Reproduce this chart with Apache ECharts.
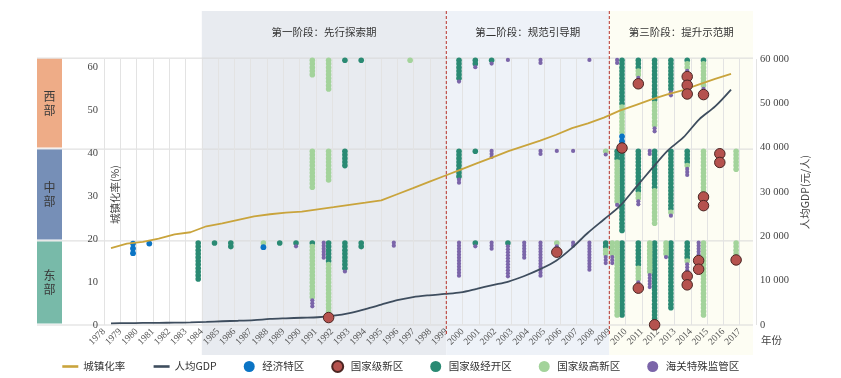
<!DOCTYPE html>
<html><head><meta charset="utf-8">
<script src="https://cdn.jsdelivr.net/npm/echarts@6/dist/echarts.min.js"></script>
<style>html,body{margin:0;padding:0;background:#fff}#c{width:841px;height:378px}</style>
</head><body><div id="c"></div>
<script>
// ---------------- data ----------------
const years = [];
for (let y = 1978; y <= 2017; y++) years.push(y);
const urbanRate = [17.92,18.96,19.39,20.16,21.13,21.62,23.01,23.71,24.52,25.32,25.81,26.21,26.41,26.94,27.46,27.99,28.51,29.04,30.48,31.91,33.35,34.78,36.22,37.66,39.09,40.53,41.76,42.99,44.34,45.89,46.99,48.34,49.95,51.27,52.57,53.73,54.77,56.10,57.35,58.52];
const gdpPerCapita = [380,420,460,490,530,590,690,850,960,1110,1360,1510,1640,1750,2100,2700,3600,4600,5600,6300,6700,7000,7350,8150,9000,9800,11060,12600,14500,17400,20800,23800,26800,31000,35200,39300,42300,46400,49300,53100];
const regionNames = ['西部','中部','东部'];
const typeNames = ['国家级经开区','国家级高新区','海关特殊监管区','经济特区','国家级新区'];
// rows: [year, column, 经开区, 高新区, 海关特殊监管区, 经济特区, 国家级新区]
const westColumns = [
  [1991,0, 0,5,0,0,0],[1992,0, 0,9,0,0,0],[1993,0, 1,0,0,0,0],[1994,0, 1,0,0,0,0],
  [1997,0, 0,1,0,0,0],[2000,0, 6,0,1,0,0],[2001,0, 2,0,1,0,0],[2002,0, 1,0,1,0,0],
  [2003,0, 0,0,1,0,0],[2005,0, 0,0,2,0,0],[2008,0, 0,0,1,0,0],
  [2010,1, 0,0,2,0,0],[2010,0, 13,8,0,2,1],[2011,0, 3,2,1,0,1],[2012,0, 12,7,2,0,0],
  [2013,0, 9,0,2,0,0],[2014,0, 1,2,1,0,3],[2015,0, 1,7,1,0,1]
];
const centralColumns = [
  [1991,0, 0,11,0,0,0],[1992,0, 0,9,0,0,0],[1993,0, 5,0,0,0,0],[2000,0, 8,0,2,0,0],
  [2001,0, 1,0,0,0,0],[2002,0, 0,0,3,0,0],[2005,0, 0,0,2,0,0],[2006,0, 0,0,1,0,0],
  [2007,0, 0,0,1,0,0],[2009,0, 0,1,1,0,0],[2010,1, 3,12,1,0,0],[2010,0, 23,0,0,0,0],
  [2011,0, 12,2,2,0,0],[2012,1, 0,0,2,0,0],[2012,0, 11,10,0,0,0],[2013,0, 17,1,1,0,0],
  [2014,0, 4,1,3,0,0],[2015,0, 0,12,0,0,2],[2016,0, 0,0,0,0,2],[2017,0, 0,6,0,0,0]
];
const eastColumns = [
  [1980,0, 0,0,0,3,0],[1981,0, 0,0,0,1,0],[1984,0, 11,0,0,0,0],[1985,0, 1,0,0,0,0],
  [1986,0, 2,0,0,0,0],[1988,0, 0,1,0,1,0],[1989,0, 1,0,0,0,0],[1990,0, 1,0,1,0,0],
  [1991,0, 1,15,3,0,0],[1992,1, 0,0,6,0,0],[1992,0, 6,14,0,0,1],[1993,0, 8,0,1,0,0],
  [1994,0, 2,0,0,0,0],[1996,0, 0,0,2,0,0],[2000,0, 0,0,12,0,0],[2001,0, 1,0,1,0,0],
  [2002,0, 0,0,3,0,0],[2003,0, 1,0,11,0,0],[2004,0, 0,0,6,0,0],[2005,0, 0,0,12,0,0],
  [2006,0, 0,1,1,0,1],[2007,0, 0,0,2,0,0],[2008,0, 0,0,10,0,0],[2009,0, 2,2,3,0,0],
  [2010,2, 0,4,3,0,0],[2010,1, 0,21,0,0,0],[2010,0, 21,0,0,0,0],[2011,0, 7,4,1,0,1],
  [2012,1, 0,9,5,0,0],[2012,0, 22,0,0,0,1],[2013,1, 0,4,1,0,0],[2013,0, 19,0,0,0,0],
  [2014,0, 5,1,3,0,2],[2015,1, 0,0,5,0,2],[2015,0, 0,21,0,0,0],[2017,0, 0,4,0,0,1]
];
const stages = [
  ['第一阶段：先行探索期', 1984, 1999],
  ['第二阶段：规范引导期', 1999, 2009],
  ['第三阶段：提升示范期', 2009, 2018]
];

// ---------------- layout / style ----------------
const SERIF = "'Liberation Serif','Noto Sans CJK SC',serif";
const CJK = "'Noto Sans CJK SC','Liberation Serif',sans-serif";
const LEFT_MAX = 62, GRID_TOP = 59, GRID_H = 266;
const unitsPerPx = LEFT_MAX / GRID_H;
const panelEdges = [62.2, 41.0, 19.6, 0];   // left-axis units
const colShift = [-0.22, -0.52, -0.82];
const dotStepPx = [3.6, 3.6, 3.0, 4.8, 8.7];
const dotSize = [5.6, 5.6, 4.2, 5.8, 10.5];
const dotColor = ['#2a8a73', '#a3d39b', '#7b65a9', '#0b74c4', '#b5524e'];
const stageFill = ['#e8ebf0', '#eef2f8', '#fdfdf3'];
const regionFill = ['#eeac87', '#768fb7', '#78baa9'];

function buildDots() {
  const out = [[], [], [], [], []];
  [westColumns, centralColumns, eastColumns].forEach((cols, r) => {
    const top = panelEdges[r];
    cols.forEach(row => {
      const x = row[0] + colShift[row[1]];
      let pos = null, prev = null;
      for (let t = 0; t < 5; t++) {
        for (let i = 0; i < row[2 + t]; i++) {
          const s = dotStepPx[t];
          pos = pos === null ? s / 2 + 0.3 : pos + (prev + s) / 2;
          prev = s;
          out[t].push([x, top - pos * unitsPerPx]);
        }
      }
    });
  });
  return out;
}
const dots = buildDots();

const chart = echarts.init(document.getElementById('c'));
const legendOrder = ['城镇化率', '人均GDP', '经济特区', '国家级新区', '国家级经开区', '国家级高新区', '海关特殊监管区'];

const scatterSeries = typeNames.map((name, t) => ({
  name: name, type: 'scatter', xAxisIndex: 0, yAxisIndex: 0,
  data: dots[t], symbol: 'circle', symbolSize: dotSize[t], clip: false,
  z: t === 4 ? 5 : 2,
  itemStyle: t === 4
    ? { color: dotColor[t], borderColor: '#4b2522', borderWidth: 1, opacity: 1 }
    : { color: dotColor[t], opacity: 1 },
  emphasis: { disabled: true }
}));

chart.setOption({
  animation: false,
  backgroundColor: '#fff',
  grid: { left: 104, right: 85, top: GRID_TOP, height: GRID_H },
  legend: {
    left: 56, top: 355, itemGap: 27, itemWidth: 16, itemHeight: 11,
    textStyle: { fontFamily: CJK, fontSize: 10.5, color: '#333' },
    data: legendOrder.map(n => {
      if (n === '城镇化率' || n === '人均GDP')
        return { name: n, lineStyle: { width: 2.6 }, itemStyle: { color: 'rgba(0,0,0,0)', borderWidth: 0, opacity: 0 } };
      return { name: n, icon: 'circle' };
    })
  },
  xAxis: [{
    type: 'value', min: 1978, max: 2018, interval: 1,
    axisLine: { show: false }, axisTick: { show: false },
    splitLine: { show: true, lineStyle: { color: '#e3e3e3', width: 1 } },
    axisLabel: {
      rotate: 45, fontFamily: SERIF, fontSize: 9.5, color: '#555', margin: 5,
      formatter: v => (v <= 2017 ? String(v) : '')
    },
    name: '年份', nameLocation: 'end', nameGap: 5,
    nameTextStyle: { fontFamily: CJK, fontSize: 10.5, color: '#444', verticalAlign: 'top', padding: [10, 0, 0, 0] }
  }, {
    type: 'value', min: 1977.56, max: 2018.57, show: false
  }],
  yAxis: [{
    type: 'value', min: 0, max: LEFT_MAX, interval: 10, position: 'left',
    axisLine: { show: false }, axisTick: { show: false }, splitLine: { show: false },
    axisLabel: {
      fontFamily: SERIF, fontSize: 10.5, color: '#444', margin: 6,
      formatter: v => (v % 10 === 0 && v <= 60 ? String(v) : '')
    }
  }, {
    type: 'value', min: 0, max: 60000, interval: 10000, position: 'right',
    axisLine: { show: false }, axisTick: { show: false }, splitLine: { show: false },
    axisLabel: {
      fontFamily: SERIF, fontSize: 10.5, color: '#444', margin: 4,
      formatter: v => (v === 0 ? '0' : (v / 1000) + ' 000')
    },
    name: '人均GDP(元/人)', nameLocation: 'middle', nameGap: 42,
    nameTextStyle: { fontFamily: CJK, fontSize: 10.5, color: '#444' }
  }],
  series: [{
    name: '城镇化率', type: 'line', xAxisIndex: 1, yAxisIndex: 0,
    data: years.map((y, i) => [y, urbanRate[i]]),
    symbol: 'none', showSymbol: false, z: 4,
    lineStyle: { color: '#c9a43c', width: 1.8 }, itemStyle: { color: '#c9a43c' }
  }, {
    name: '人均GDP', type: 'line', xAxisIndex: 1, yAxisIndex: 1,
    data: years.map((y, i) => [y, gdpPerCapita[i]]),
    symbol: 'none', showSymbol: false, smooth: 0.3, z: 4,
    lineStyle: { color: '#3e4d5e', width: 1.8 }, itemStyle: { color: '#3e4d5e' }
  }].concat(scatterSeries)
});

// ---------------- decorations derived from the axes ----------------
const px = v => chart.convertToPixel({ xAxisIndex: 0 }, v);
const py = v => chart.convertToPixel({ yAxisIndex: 0 }, v);
const gridRight = px(2018);
const g = [];
stages.forEach((s, i) => {
  const x1 = px(s[1]), x2 = Math.min(px(s[2]), gridRight - 3);
  g.push({ type: 'rect', z: -20, silent: true,
    shape: { x: x1, y: 11, width: x2 - x1, height: 344 },
    style: { fill: stageFill[i] } });
  g.push({ type: 'text', z: 10, silent: true,
    style: { text: s[0], x: (x1 + x2) / 2, y: 32, align: 'center', verticalAlign: 'middle',
      font: "10.5px 'Noto Sans CJK SC', sans-serif", fill: '#333' } });
});
[stages[1][1], stages[2][1]].forEach(yr => {
  const x = px(yr);
  g.push({ type: 'line', z: 10, silent: true,
    shape: { x1: x, y1: 11, x2: x, y2: 334 },
    style: { stroke: '#b8322a', lineWidth: 1, lineDash: [3, 2] } });
});
const edgesPx = panelEdges.map(py);
edgesPx.forEach(y => {
  g.push({ type: 'line', z: -10, silent: true,
    shape: { x1: 37, y1: y, x2: gridRight - 3, y2: y },
    style: { stroke: '#d9d9d9', lineWidth: 1 } });
});
regionNames.forEach((name, r) => {
  const y1 = edgesPx[r] + 0.5, y2 = edgesPx[r + 1] - 1.5;
  g.push({ type: 'rect', z: -5, silent: true,
    shape: { x: 37, y: y1, width: 25, height: y2 - y1 },
    style: { fill: regionFill[r] } });
  g.push({ type: 'text', z: 10, silent: true,
    style: { text: name[0] + '\n' + name[1], x: 49.5, y: (y1 + y2) / 2, align: 'center', verticalAlign: 'middle',
      font: "12px 'Noto Sans CJK SC', sans-serif", fill: '#3a3a3a', lineHeight: 14 } });
});
// left axis title, drawn inside the plot next to the axis
const axisX = px(1978);
g.push({ type: 'text', z: 10, silent: true, rotation: Math.PI / 2,
  x: axisX + 11, y: (edgesPx[0] + edgesPx[3]) / 2 + 3,
  style: { text: '城镇化率(%)', x: 0, y: 0, align: 'center', verticalAlign: 'middle',
    font: "10.5px 'Noto Sans CJK SC', sans-serif", fill: '#444' } });
chart.setOption({ graphic: { elements: g } });
</script>
</body></html>
